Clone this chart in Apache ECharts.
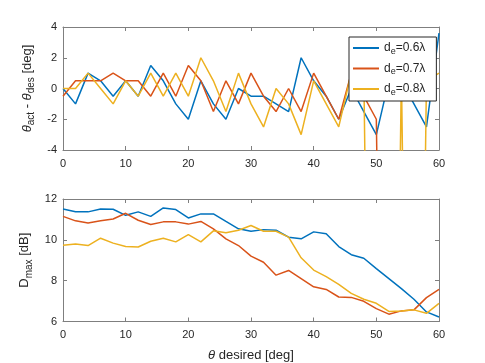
<!DOCTYPE html>
<html><head><meta charset="utf-8">
<script src="https://cdn.jsdelivr.net/npm/echarts@6/dist/echarts.min.js"></script>
<style>html,body{margin:0;padding:0;background:#fff}#c{width:485px;height:363px}</style>
</head><body><div id="c"></div>
<script>
// ---- data ----
const angles = [0,2,4,6,8,10,12,14,16,18,20,22,24,26,28,30,32,34,36,38,40,42,44,46,48,50,52,54,56,58,60];
const seriesNames = ['d_e=0.6λ', 'd_e=0.7λ', 'd_e=0.8λ'];
const legendLabels = ['0.6λ', '0.7λ', '0.8λ'];
// steering error theta_act - theta_des [deg]  (-60: far below the visible range)
const errBlue   = [0,-1,1,0.5,-0.5,0.5,-0.5,1.5, 0.5,-1,-2,0.5,-1,-2,0,-0.5, -0.5,-1,-1.5,2,0.5,-0.5,-2,0, -1.5,-3,0.5,0.5,-1,-2.5,3.6];
const errOrange = [-0.5,0.5,0.5,0.5,1,0.5,0.5,-0.5, 1,-0.5,1.5,0.5,-1.5,0.5,-1,1, -0.5,-1.5,0,-1.5,1,-0.5,-2,1,-0.5,-2, -60,-60,-60,-60,-60];
const errYellow = [0,0,1,0,-1,0.5,-0.5,1, -0.5,1,-0.5,2,0.5,-1.5,1,-1, -2.5,0,-1,-3,0.5,-1,-2.5,1, 1,-60,-60,1,-60,0.5,1];
// D_max [dB]
const dmaxBlue   = [11.51,11.38,11.37,11.51,11.5,11.2,11.37,11.15,11.56,11.48,11.07,11.27,11.27,10.9,10.54,10.42,10.5,10.47, 10.13,10.05,10.39,10.3,9.67,9.27,9.1,8.59,8.1,7.61,7.09,6.47,6.22];
const dmaxOrange = [11.15,10.93,10.83,10.93,11.02,11.3,10.96,10.75,10.88,10.88,10.77,10.9,10.54,10.05,9.72,9.2,8.9, 8.27,8.5,8.1,7.7,7.57,7.2,7.18,6.99,6.63,6.36,6.52,6.57,7.17,7.57];
const dmaxYellow = [9.74,9.8,9.72,10.08,9.84,9.67,9.65,9.93,10.08,9.9,10.26,9.9,10.44,10.35,10.47,10.7,10.42,10.42, 10.13,9.12,8.52,8.2,7.82,7.38,7.09,6.89,6.49,6.52,6.57,6.4,6.89];
const xTicks = {min:0, max:60, interval:10};
const errTicks = {min:-4, max:4, interval:2};
const dmaxTicks = {min:6, max:12, interval:2};
const colors = ['#0072BD', '#D95319', '#EDB120'];

// ---- chart ----
const FONT = "'Liberation Sans', Arial, Helvetica, sans-serif";
const TXT = '#262626';
const AX = '#7f7f7f';
const pairs = v => angles.map((a, i) => [a, v[i]]);

const rich = {
  n: {fontSize: 13, fontFamily: FONT, color: TXT, lineHeight: 18},
  i: {fontSize: 13, fontFamily: FONT, color: TXT, fontStyle: 'italic', lineHeight: 18},
  s: {fontSize: 10, fontFamily: FONT, color: TXT, verticalAlign: 'bottom', lineHeight: 12}
};

function xAx(grid, name) {
  const base = {type: 'value', gridIndex: grid, min: xTicks.min, max: xTicks.max, interval: xTicks.interval,
    splitLine: {show: false}, axisLine: {show: true, onZero: false, lineStyle: {color: AX, width: 1}},
    axisTick: {show: true, inside: true, length: 4, lineStyle: {color: AX}}};
  return [
    Object.assign({}, base, {position: 'bottom',
      axisLabel: {show: true, color: TXT, fontSize: 11, fontFamily: FONT, margin: 8},
      name: name || '', nameLocation: 'middle', nameGap: 25,
      nameTextStyle: {rich: rich, fontSize: 13, fontFamily: FONT, color: TXT}}),
    Object.assign({}, base, {position: 'top', axisLabel: {show: false}})
  ];
}
function yAx(grid, t, name) {
  const base = {type: 'value', gridIndex: grid, min: t.min, max: t.max, interval: t.interval,
    splitLine: {show: false}, axisLine: {show: true, onZero: false, lineStyle: {color: AX, width: 1}},
    axisTick: {show: true, inside: true, length: 4, lineStyle: {color: AX}}};
  return [
    Object.assign({}, base, {position: 'left',
      axisLabel: {show: true, color: TXT, fontSize: 11, fontFamily: FONT, margin: 6},
      name: name, nameLocation: 'middle', nameRotate: 90, nameGap: 22,
      nameTextStyle: {rich: rich, fontSize: 13, fontFamily: FONT, color: TXT}}),
    Object.assign({}, base, {position: 'right', axisLabel: {show: false}})
  ];
}
function line(name, data, color, xi, yi) {
  return {type: 'line', name: name, data: pairs(data), xAxisIndex: xi, yAxisIndex: yi,
    showSymbol: false, symbol: 'none', clip: true, color: color,
    lineStyle: {color: color, width: 1.5}, emphasis: {disabled: true}};
}

const chart = echarts.init(document.getElementById('c'), null, {renderer: 'canvas'});
chart.setOption({
  animation: false,
  backgroundColor: '#fff',
  grid: [
    {left: 63, top: 27, width: 376, height: 123, containLabel: false},
    {left: 63, top: 199, width: 376, height: 124, containLabel: false}
  ],
  xAxis: [].concat(xAx(0, ''), xAx(1, '{i|θ}{n| desired [deg]}')),
  yAxis: [].concat(yAx(0, errTicks, '{i|θ}{s|act}{n| - }{i|θ}{s|des}{n| [deg]}'),
                   yAx(1, dmaxTicks, '{n|D}{s|max}{n| [dB]}')),
  legend: {
    show: true, orient: 'vertical', left: 349, top: 37,
    data: seriesNames,
    icon: 'rect', itemWidth: 26, itemHeight: 2, itemGap: 6.5,
    padding: [5, 11, 4, 4],
    backgroundColor: '#fff', borderColor: '#262626', borderWidth: 1, borderRadius: 0,
    formatter: name => '{n|d}{s|e}{n|=' + legendLabels[seriesNames.indexOf(name)] + '}',
    textStyle: {fontFamily: FONT, fontSize: 12, color: TXT, rich: {
      n: {fontSize: 12, fontFamily: FONT, color: TXT, lineHeight: 16},
      s: {fontSize: 9, fontFamily: FONT, color: TXT, verticalAlign: 'bottom', lineHeight: 10}
    }},
    selectedMode: false
  },
  series: [
    line(seriesNames[0], errBlue, colors[0], 0, 0),
    line(seriesNames[1], errOrange, colors[1], 0, 0),
    line(seriesNames[2], errYellow, colors[2], 0, 0),
    line(seriesNames[0], dmaxBlue, colors[0], 2, 2),
    line(seriesNames[1], dmaxOrange, colors[1], 2, 2),
    line(seriesNames[2], dmaxYellow, colors[2], 2, 2)
  ]
});
</script>
</body></html>
